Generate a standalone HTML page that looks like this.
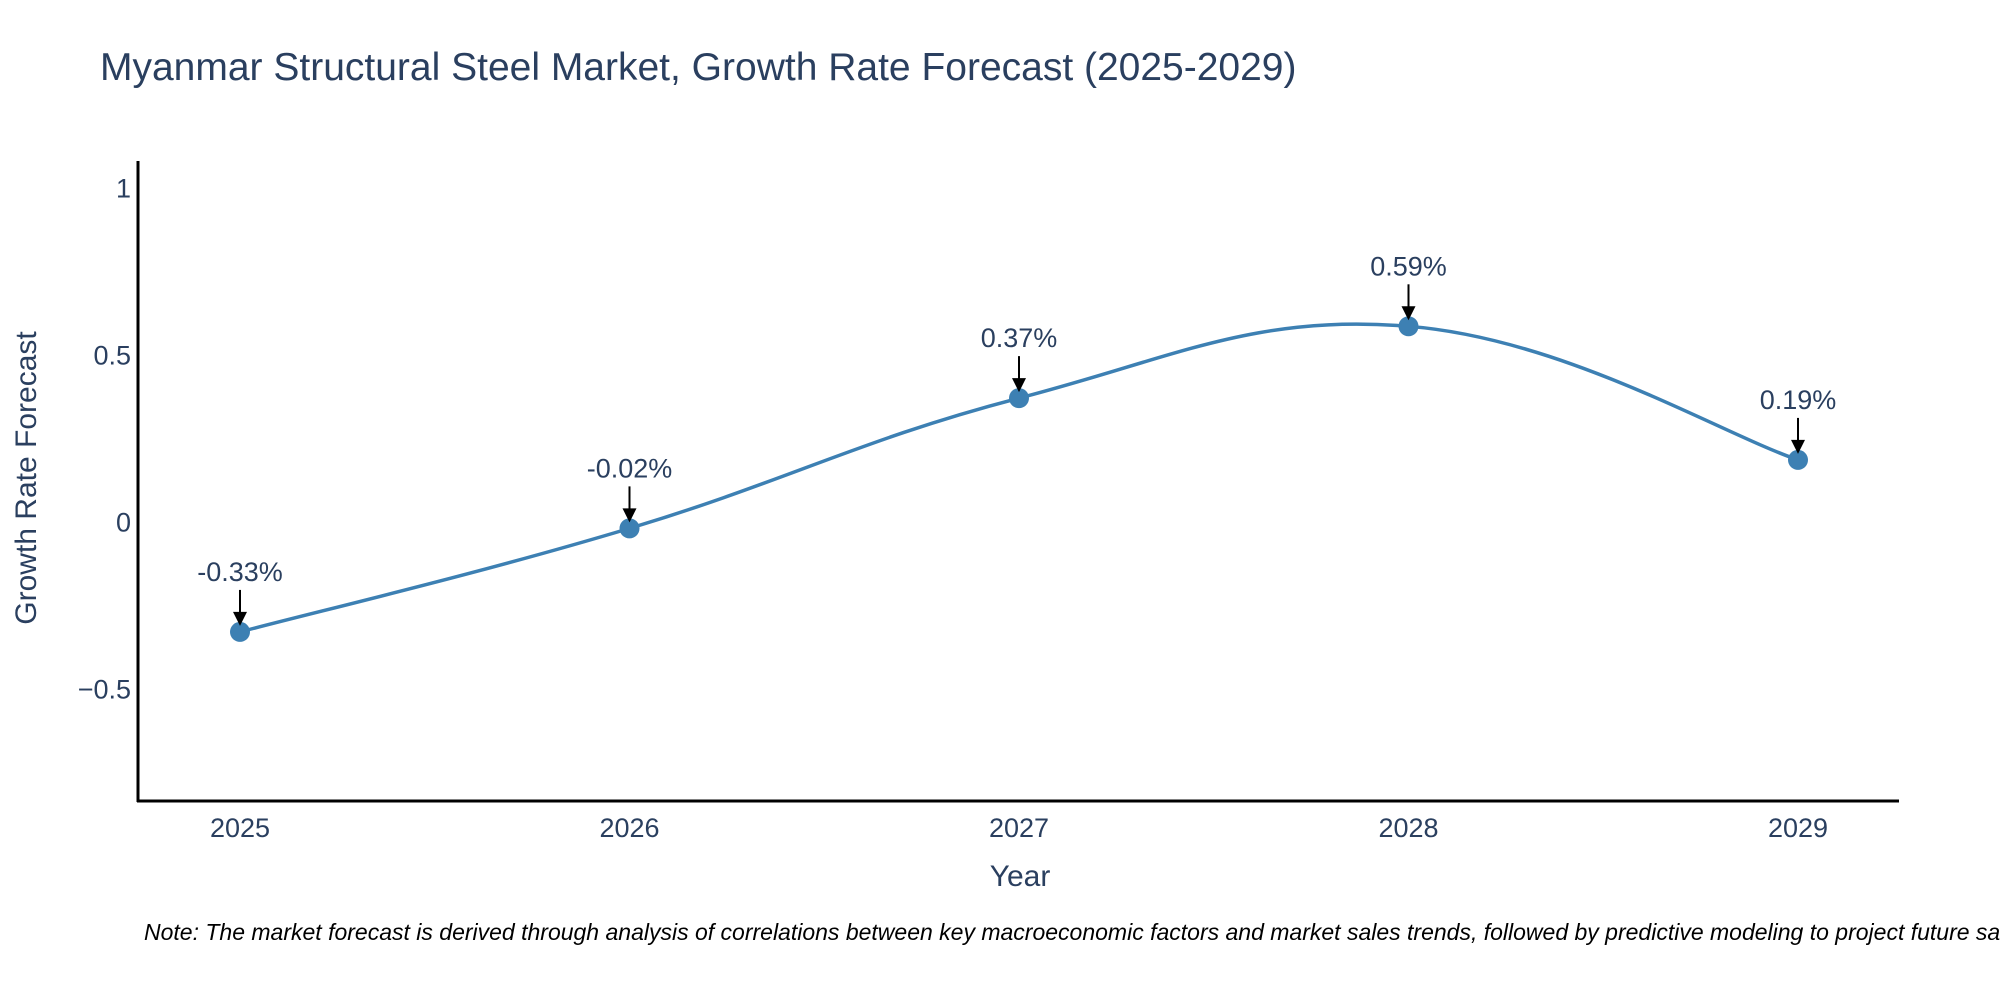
<!DOCTYPE html>
<html><head><meta charset="utf-8"><style>
body{margin:0;background:#fff;overflow:hidden;}
svg{display:block;font-family:"Liberation Sans",Arial,sans-serif;}
</style></head><body>
<svg id="chart" width="2000" height="1000">
<text x="100" y="80" font-size="39" fill="#2a3f5f">Myanmar Structural Steel Market, Growth Rate Forecast (2025-2029)</text>
<g id="yticks"></g><g id="xticks"></g>
<line x1="138" y1="161" x2="138" y2="802" stroke="#000" stroke-width="3"/>
<line x1="137" y1="801" x2="1899" y2="801" stroke="#000" stroke-width="3"/>
<text x="1020" y="886" font-size="30" fill="#2a3f5f" text-anchor="middle">Year</text>
<text transform="translate(36,478) rotate(-90)" font-size="30" fill="#2a3f5f" text-anchor="middle">Growth Rate Forecast</text>
<g id="series"></g>
<text x="144" y="940" font-size="23" font-style="italic" fill="#000">Note: The market forecast is derived through analysis of correlations between key macroeconomic factors and market sales trends, followed by predictive modeling to project future sales.</text>
</svg>
<script>
const years=[2025,2026,2027,2028,2029];
const values=[-0.33,-0.02,0.37,0.585,0.185];
const labels=["-0.33%","-0.02%","0.37%","0.59%","0.19%"];
const yTicks=[1,0.5,0,-0.5];
const yTickLabels=["1","0.5","0","\u22120.5"];
const NS="http://www.w3.org/2000/svg";
const xs=y=>240+(y-2025)*389.5;
const ys=v=>521.7-v*334;
function mk(tag,attrs,parent){const e=document.createElementNS(NS,tag);for(const k in attrs)e.setAttribute(k,attrs[k]);parent.appendChild(e);return e;}
const yt=document.getElementById('yticks');
yTicks.forEach((v,i)=>{const t=mk('text',{x:131,y:ys(v)+10,'font-size':27,fill:'#2a3f5f','text-anchor':'end'},yt);t.textContent=yTickLabels[i];

});
const xt=document.getElementById('xticks');
years.forEach(y=>{const t=mk('text',{x:xs(y),y:837,'font-size':27,fill:'#2a3f5f','text-anchor':'middle'},xt);t.textContent=y;

});
const s=document.getElementById('series');
const P=years.map((y,i)=>[xs(y),ys(values[i])]);
let d=`M${P[0][0]},${P[0][1]}`;const k=0.2;
for(let i=0;i<P.length-1;i++){const p0=P[Math.max(0,i-1)],p1=P[i],p2=P[i+1],p3=P[Math.min(P.length-1,i+2)];
const c1=[p1[0]+(p2[0]-p0[0])*k,p1[1]+(p2[1]-p0[1])*k],c2=[p2[0]-(p3[0]-p1[0])*k,p2[1]-(p3[1]-p1[1])*k];
d+=` C${c1[0]},${c1[1]} ${c2[0]},${c2[1]} ${p2[0]},${p2[1]}`;}
const path=mk('path',{d:d,fill:'none',stroke:'#3d80b3','stroke-width':3.5},s);


P.forEach((p,i)=>{const c=mk('circle',{cx:p[0],cy:p[1],r:10,fill:'#3d80b3'},s);


const l=mk('line',{x1:p[0],y1:p[1]-42,x2:p[0],y2:p[1]-18,stroke:'#000','stroke-width':2},s);


const h=mk('polygon',{points:`${p[0]-7},${p[1]-20} ${p[0]+7},${p[1]-20} ${p[0]},${p[1]-6}`,fill:'#000'},s);


const t=mk('text',{x:p[0],y:p[1]-51,'font-size':27,fill:'#2a3f5f','text-anchor':'middle'},s);t.textContent=labels[i];

});
</script>
</body></html>
